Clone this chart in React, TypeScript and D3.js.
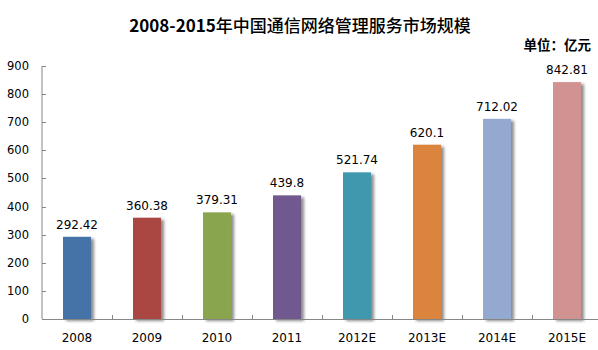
import React from "react";
import * as d3 from "d3";

const years = ["2008", "2009", "2010", "2011", "2012E", "2013E", "2014E", "2015E"];
const values = [292.42, 360.38, 379.31, 439.8, 521.74, 620.1, 712.02, 842.81];
const labels = ["292.42", "360.38", "379.31", "439.8", "521.74", "620.1", "712.02", "842.81"];
const yTicks = [0, 100, 200, 300, 400, 500, 600, 700, 800, 900];
const colors = ["#4572A7", "#AA4643", "#89A54E", "#71588F", "#4198AF", "#DB843D", "#93A9CF", "#D19392"];

const width = 598;
const height = 350;
const left = 42;
const top = 66;
const bottom = 319;

export default function App() {
  const x = d3.scaleBand().domain(years).range([left, left + 560]).paddingInner(0).paddingOuter(0);
  const y = d3.scaleLinear().domain([0, 900]).range([bottom, top]);
  const barW = 28;
  const font = "'DejaVu Sans', Verdana, sans-serif";
  const cjk = "'Noto Sans CJK SC', sans-serif";

  return (
    <svg width={width} height={height} style={{ position: "absolute", left: 0, top: 0, background: "#fff" }}>
      <defs>
        <filter id="shadow" x="-20%" y="-5%" width="160%" height="115%">
          <feGaussianBlur in="SourceAlpha" stdDeviation="1.5" />
          <feOffset dx="3" dy="2" result="blur" />
          <feComponentTransfer>
            <feFuncA type="linear" slope="0.45" />
          </feComponentTransfer>
          <feMerge>
            <feMergeNode />
            <feMergeNode in="SourceGraphic" />
          </feMerge>
        </filter>
      </defs>

      <text x={300} y={32} textAnchor="middle" fontFamily={cjk} fontSize={17} fill="#000">
        <tspan fontWeight="bold">2008-2015</tspan>
        <tspan fontWeight="500">年中国通信网络管理服务市场规模</tspan>
      </text>
      <text x={591} y={50} textAnchor="end" fontFamily={cjk} fontWeight="bold" fontSize={13.5} fill="#000">
        单位：亿元
      </text>

      {/* y axis */}
      <line x1={left} x2={left} y1={top} y2={bottom} stroke="#868686" />
      {yTicks.map(t => (
        <g key={t}>
          <line x1={left} x2={left + 4} y1={Math.round(y(t)) + 0.5} y2={Math.round(y(t)) + 0.5} stroke="#868686" />
          <text x={29} y={y(t) + 4} textAnchor="end" fontFamily={font} fontSize={11.5} fill="#000">
            {t}
          </text>
        </g>
      ))}

      {/* bars */}
      {years.map((yr, i) => {
        const cx = (x(yr) as number) + x.bandwidth() / 2;
        return (
          <g key={yr}>
            <rect
              x={cx - barW / 2}
              y={y(values[i])}
              width={barW}
              height={bottom - y(values[i])}
              fill={colors[i]}
              filter="url(#shadow)"
            />
            <text x={cx} y={y(values[i]) - 8} textAnchor="middle" fontFamily={font} fontSize={12} fill="#000">
              {labels[i]}
            </text>
            <text x={cx} y={342} textAnchor="middle" fontFamily={font} fontSize={12} fill="#000">
              {yr}
            </text>
          </g>
        );
      })}

      {/* x axis */}
      <line x1={left} x2={width} y1={bottom + 0.5} y2={bottom + 0.5} stroke="#868686" />
      {years.slice(1).map(yr => (
        <line key={yr} x1={Math.round(x(yr) as number) + 0.5} x2={Math.round(x(yr) as number) + 0.5} y1={bottom} y2={bottom - 4} stroke="#868686" />
      ))}
    </svg>
  );
}
